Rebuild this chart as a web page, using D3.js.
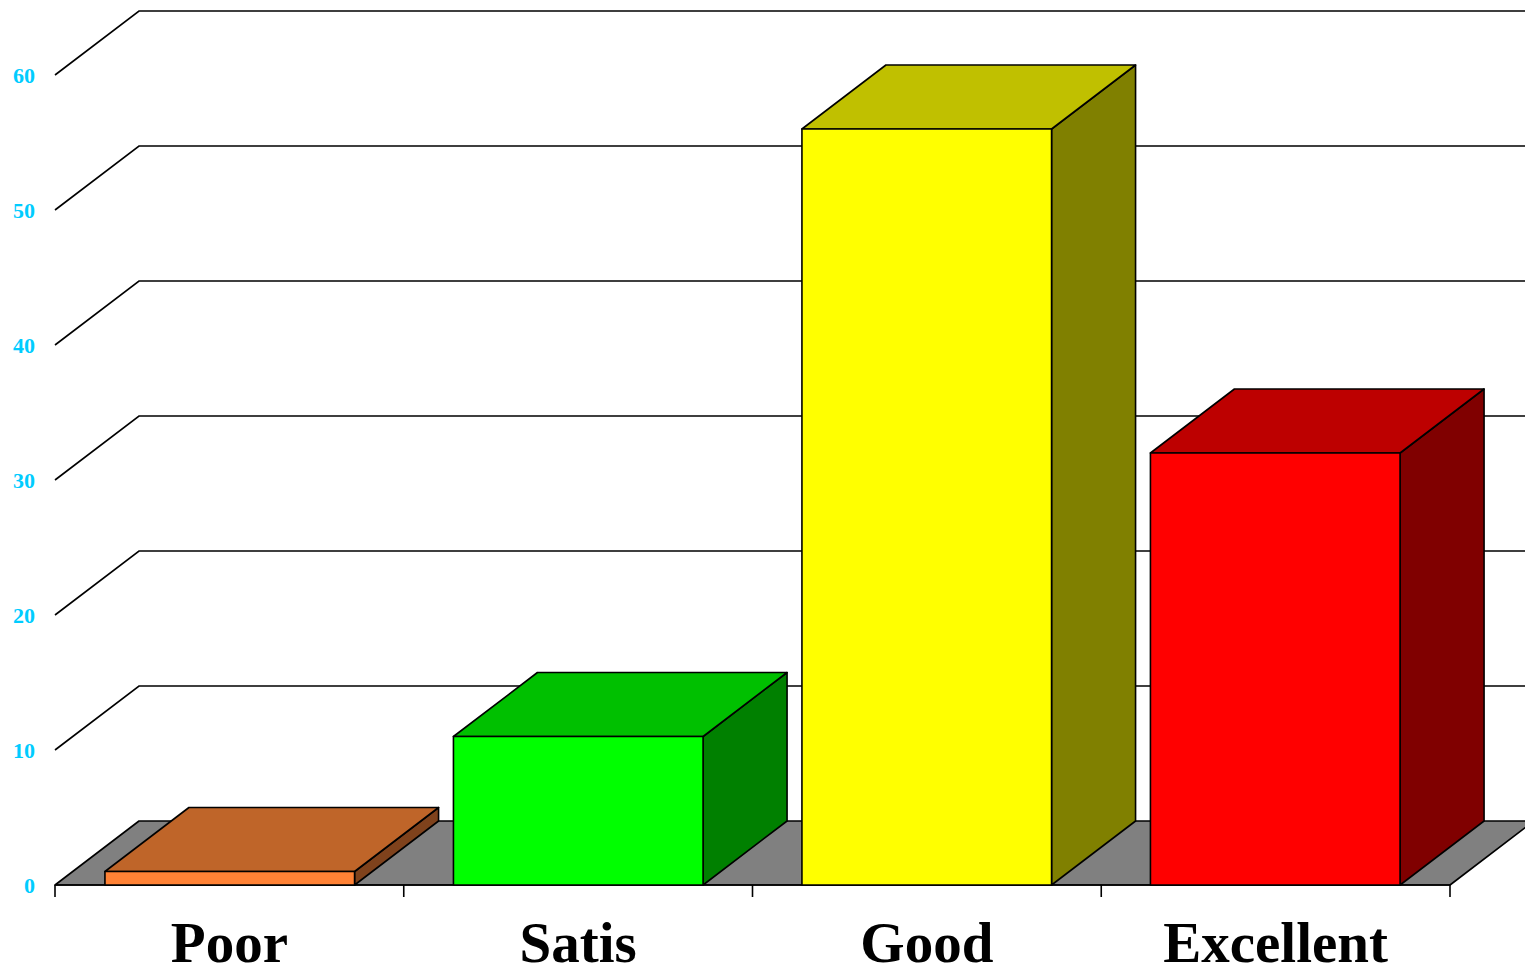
<!DOCTYPE html>
<html>
<head>
<meta charset="utf-8">
<script src="https://cdn.jsdelivr.net/npm/d3@7"></script>
<style>
  html, body { margin: 0; padding: 0; background: #ffffff; overflow: hidden; }
  svg { display: block; }
</style>
</head>
<body>
<svg id="chart" width="1525" height="976"></svg>
<script>
// Ratings and counts
const categories = ["Poor", "Satis", "Good", "Excellent"];
const values = [1, 11, 56, 32];
const yTicks = [0, 10, 20, 30, 40, 50, 60];

// Face colours per bar: front, top, side
const frontColors = ["#ff8235", "#00ff00", "#ffff00", "#ff0000"];
const topColors = ["#bf6529", "#00c000", "#c0c000", "#bd0000"];
const sideColors = ["#7f421c", "#008000", "#808000", "#800000"];

(function () {
  const svg = d3.select("#chart");
  const W = 1525;

  // Plot frame (front plane) and depth offset of the 3D box
  const plotLeft = 55, plotRight = 1450, plotBottom = 885, plotTop = 75;
  const dx = 84, dy = -64;

  const x = d3.scaleBand()
    .domain(categories)
    .range([plotLeft, plotRight])
    .paddingInner(0.2837)
    .paddingOuter(0.1433);

  const slot = d3.scaleBand().domain(categories).range([plotLeft, plotRight]).padding(0);

  const y = d3.scaleLinear().domain([0, 60]).range([plotBottom, plotTop]);

  const line = d3.line();

  // Floor
  svg.append("path")
    .attr("d", line([[plotLeft, y(0)], [plotRight, y(0)], [plotRight + dx, y(0) + dy], [plotLeft + dx, y(0) + dy]]) + "Z")
    .attr("fill", "#808080")
    .attr("stroke", "#000")
    .attr("stroke-width", 1.6)
    .attr("stroke-linejoin", "round");

  // Gridlines on the back wall plus diagonals on the side wall
  const grid = svg.append("g").attr("fill", "none").attr("stroke", "#000").attr("stroke-width", 1.6);
  yTicks.filter(t => t > 0).forEach(t => {
    grid.append("path").attr("d", line([[plotLeft, y(t)], [plotLeft + dx, y(t) + dy], [W + 5, y(t) + dy]]));
  });

  // Front baseline with category tick marks
  const axisG = svg.append("g").attr("fill", "none").attr("stroke", "#000").attr("stroke-width", 1.6);
  axisG.append("path").attr("d", line([[plotLeft, y(0)], [plotRight, y(0)]]));
  const tickXs = categories.map(c => slot(c)).concat([plotRight]);
  tickXs.forEach(tx => {
    axisG.append("path").attr("d", line([[tx, y(0)], [tx, y(0) + 12]]));
  });

  // Bars as 3D boxes
  const bars = svg.append("g").attr("stroke", "#000").attr("stroke-width", 1.6).attr("stroke-linejoin", "round");
  categories.forEach((c, i) => {
    const x0 = x(c), x1 = x(c) + x.bandwidth();
    const y0 = y(0), y1 = y(values[i]);
    const g = bars.append("g");
    g.append("path")
      .attr("d", line([[x1, y1], [x1 + dx, y1 + dy], [x1 + dx, y0 + dy], [x1, y0]]) + "Z")
      .attr("fill", sideColors[i]);
    g.append("path")
      .attr("d", line([[x0, y1], [x1, y1], [x1 + dx, y1 + dy], [x0 + dx, y1 + dy]]) + "Z")
      .attr("fill", topColors[i]);
    g.append("path")
      .attr("d", line([[x0, y1], [x1, y1], [x1, y0], [x0, y0]]) + "Z")
      .attr("fill", frontColors[i]);
  });

  // Value axis labels
  svg.append("g")
    .selectAll("text")
    .data(yTicks)
    .join("text")
    .attr("x", 35)
    .attr("y", d => y(d) + 8)
    .attr("text-anchor", "end")
    .attr("font-family", "'Liberation Serif', 'Times New Roman', serif")
    .attr("font-weight", "bold")
    .attr("font-size", 22)
    .attr("fill", "#00ccff")
    .text(d => d);

  // Category labels
  svg.append("g")
    .selectAll("text")
    .data(categories)
    .join("text")
    .attr("x", d => slot(d) + slot.bandwidth() / 2)
    .attr("y", 962)
    .attr("text-anchor", "middle")
    .attr("font-family", "'Liberation Serif', 'Times New Roman', serif")
    .attr("font-weight", "bold")
    .attr("font-size", 57)
    .attr("fill", "#000")
    .text(d => d);
})();
</script>
</body>
</html>
